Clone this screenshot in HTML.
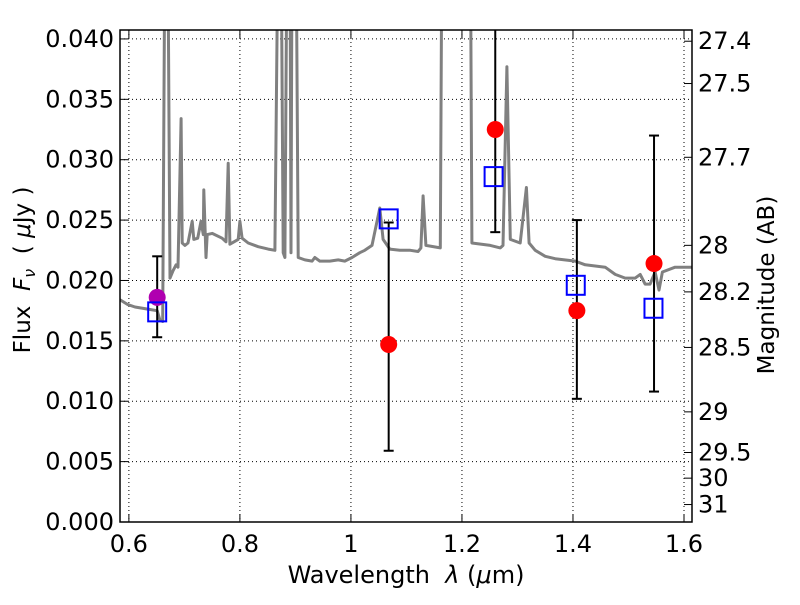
<!DOCTYPE html>
<html><head><meta charset="utf-8"><style>
html,body{margin:0;padding:0;background:#fff;}
svg text{font-family:"DejaVu Sans","Liberation Sans",sans-serif;white-space:pre;}
</style></head><body>
<svg id="chart" width="800" height="600" viewBox="0 0 800 600" xmlns="http://www.w3.org/2000/svg"></svg>
<script>
const specWave=[0.584,0.598,0.611,0.638,0.651,0.656,0.661,0.665,0.670,0.674,0.6795,0.685,0.6885,0.694,0.696,0.701,0.7065,0.714,0.717,0.724,0.730,0.734,0.735,0.739,0.741,0.750,0.768,0.775,0.779,0.782,0.797,0.800,0.804,0.815,0.833,0.851,0.863,0.869,0.874,0.878,0.881,0.885,0.890,0.892,0.894,0.901,0.905,0.917,0.930,0.935,0.944,0.962,0.977,0.989,1.002,1.016,1.025,1.038,1.052,1.058,1.070,1.088,1.107,1.121,1.126,1.130,1.135,1.161,1.164,1.215,1.218,1.251,1.269,1.274,1.281,1.287,1.305,1.316,1.321,1.332,1.350,1.368,1.404,1.422,1.458,1.476,1.494,1.512,1.521,1.530,1.539,1.548,1.555,1.561,1.584,1.615];
const specFlux=[0.0184,0.0180,0.0178,0.0176,0.0175,0.0167,0.0166,0.05,0.05,0.0202,0.0208,0.0213,0.0211,0.0334,0.0231,0.0229,0.0231,0.0249,0.0234,0.0235,0.0249,0.0238,0.0275,0.0219,0.0238,0.0239,0.0235,0.0232,0.0297,0.0230,0.0234,0.0249,0.0235,0.0231,0.0228,0.0226,0.0225,0.05,0.05,0.0223,0.0219,0.05,0.05,0.0223,0.05,0.05,0.0219,0.0217,0.0216,0.0219,0.0216,0.0216,0.0217,0.0216,0.0219,0.0223,0.0225,0.0229,0.0260,0.0234,0.0226,0.0225,0.0225,0.0224,0.0227,0.0270,0.0229,0.0227,0.05,0.05,0.0231,0.0229,0.0227,0.0229,0.0377,0.0234,0.0231,0.0277,0.0231,0.0225,0.0220,0.0218,0.0216,0.0213,0.0211,0.0205,0.0202,0.0202,0.0205,0.0197,0.0197,0.0207,0.0192,0.0207,0.0211,0.0211];
const obsWave=[1.068,1.260,1.407,1.546];
const obsFlux=[0.0147,0.0325,0.0175,0.0214];
const obsHi=[0.0248,0.046,0.0250,0.0320];
const obsLo=[0.0059,0.0240,0.0102,0.0108];
const modWave=[0.651,1.068,1.257,1.405,1.545];
const modFlux=[0.0174,0.0251,0.0286,0.0196,0.0177];
const refWave=[0.651];
const refFlux=[0.0186];
const refHi=[0.0220];
const refLo=[0.0153];
const xTicks=[0.6,0.8,1.0,1.2,1.4,1.6];
const xTickLabels=["0.6","0.8","1","1.2","1.4","1.6"];
const yTicks=[0,0.005,0.010,0.015,0.020,0.025,0.030,0.035,0.040];
const yTickLabels=["0.000","0.005","0.010","0.015","0.020","0.025","0.030","0.035","0.040"];
const magTicks=[27.4,27.5,27.7,28,28.2,28.5,29,29.5,30,31];
const magTickLabels=["27.4","27.5","27.7","28","28.2","28.5","29","29.5","30","31"];

const L=120,R=692,T=30,B=522;
const X0=0.584,X1=1.6144,Y0=0,Y1=0.04074;
const sx=v=>L+(v-X0)/(X1-X0)*(R-L);
const sy=v=>B-(v-Y0)/(Y1-Y0)*(B-T);
const NS="http://www.w3.org/2000/svg";
const svg=document.getElementById('chart');
function mk(tag,attrs,parent){const e=document.createElementNS(NS,tag);for(const k in attrs)e.setAttribute(k,attrs[k]);(parent||svg).appendChild(e);return e;}
const defs=mk('defs',{});const cp=mk('clipPath',{id:'clip'},defs);mk('rect',{x:L,y:T,width:R-L,height:B-T},cp);

const grid=mk('g',{});


xTicks.forEach(t=>{mk('line',{x1:sx(t),x2:sx(t),y1:T,y2:B,stroke:'#000','stroke-width':1,'stroke-dasharray':'1,3'},grid);});
yTicks.forEach(t=>{mk('line',{x1:L,x2:R,y1:sy(t),y2:sy(t),stroke:'#000','stroke-width':1,'stroke-dasharray':'1,3'},grid);});

const plot=mk('g',{'clip-path':'url(#clip)'});
let d='';specWave.forEach((w,i)=>{d+=(i?'L':'M')+sx(w).toFixed(1)+','+sy(specFlux[i]).toFixed(1);});
const spec=mk('path',{d:d,fill:'none',stroke:'#808080','stroke-width':3,'stroke-linejoin':'round'},plot);



function errbar(w,lo,hi,name){
  const g=mk('g',{},plot);
  
  
  const x=sx(w);
  mk('line',{x1:x,x2:x,y1:sy(lo),y2:sy(hi),stroke:'#000','stroke-width':2},g);
  mk('line',{x1:x-5,x2:x+5,y1:sy(lo),y2:sy(lo),stroke:'#000','stroke-width':2},g);
  mk('line',{x1:x-5,x2:x+5,y1:sy(hi),y2:sy(hi),stroke:'#000','stroke-width':2},g);
}
refWave.forEach((w,i)=>errbar(w,refLo[i],refHi[i],'ref-errorbar'));
obsWave.forEach((w,i)=>errbar(w,obsLo[i],obsHi[i],'obs-errorbar'));
refWave.forEach((w,i)=>{const c=mk('circle',{cx:sx(w),cy:sy(refFlux[i]),r:8.5,fill:'#b000b0'},plot);

});
modWave.forEach((w,i)=>{const r=mk('rect',{x:sx(w)-9,y:sy(modFlux[i])-9.5,width:18,height:19,fill:'none',stroke:'#0000ff','stroke-width':2},plot);

});
obsWave.forEach((w,i)=>{const c=mk('circle',{cx:sx(w),cy:sy(obsFlux[i]),r:8.5,fill:'#ff0000'},plot);

});

const frame=mk('rect',{x:L,y:T,width:R-L,height:B-T,fill:'none',stroke:'#000','stroke-width':1.5});



xTicks.forEach((t,i)=>{const x=sx(t);
  mk('line',{x1:x,x2:x,y1:B,y2:B-8,stroke:'#000'});mk('line',{x1:x,x2:x,y1:T,y2:T+8,stroke:'#000'});
  const tx=mk('text',{x:x,y:B+30,'font-size':24,'text-anchor':'middle'});tx.textContent=xTickLabels[i];
  
  });
yTicks.forEach((t,i)=>{const y=sy(t);
  mk('line',{x1:L,x2:L+8,y1:y,y2:y,stroke:'#000'});
  const tx=mk('text',{x:L-6,y:y+8,'font-size':24,'text-anchor':'end'});tx.textContent=yTickLabels[i];
  
  });
magTicks.forEach((m,i)=>{const y=sy(Math.pow(10,(23.9-m)/2.5));
  mk('line',{x1:R,x2:R-8,y1:y,y2:y,stroke:'#000'});
  const tx=mk('text',{x:R+6,y:y+8,'font-size':24,'text-anchor':'start'});tx.textContent=magTickLabels[i];
  
  });

const xl=mk('text',{x:406,y:583,'font-size':24,'text-anchor':'middle'});xl.innerHTML='Wavelength  <tspan font-style="italic">λ</tspan> (<tspan font-style="italic">μ</tspan>m)';


const yl=mk('text',{x:0,y:0,'font-size':23,'text-anchor':'middle',transform:'translate(30,270) rotate(-90)'});yl.innerHTML='Flux  <tspan font-style="italic">F</tspan><tspan font-style="italic" font-size="16" dy="5">ν</tspan><tspan dy="-5">  ( </tspan><tspan font-style="italic">μ</tspan>Jy )';


const rl=mk('text',{x:0,y:0,'font-size':23,'text-anchor':'middle',transform:'translate(774,285) rotate(-90)'});rl.textContent='Magnitude (AB)';


</script>
</body></html>
